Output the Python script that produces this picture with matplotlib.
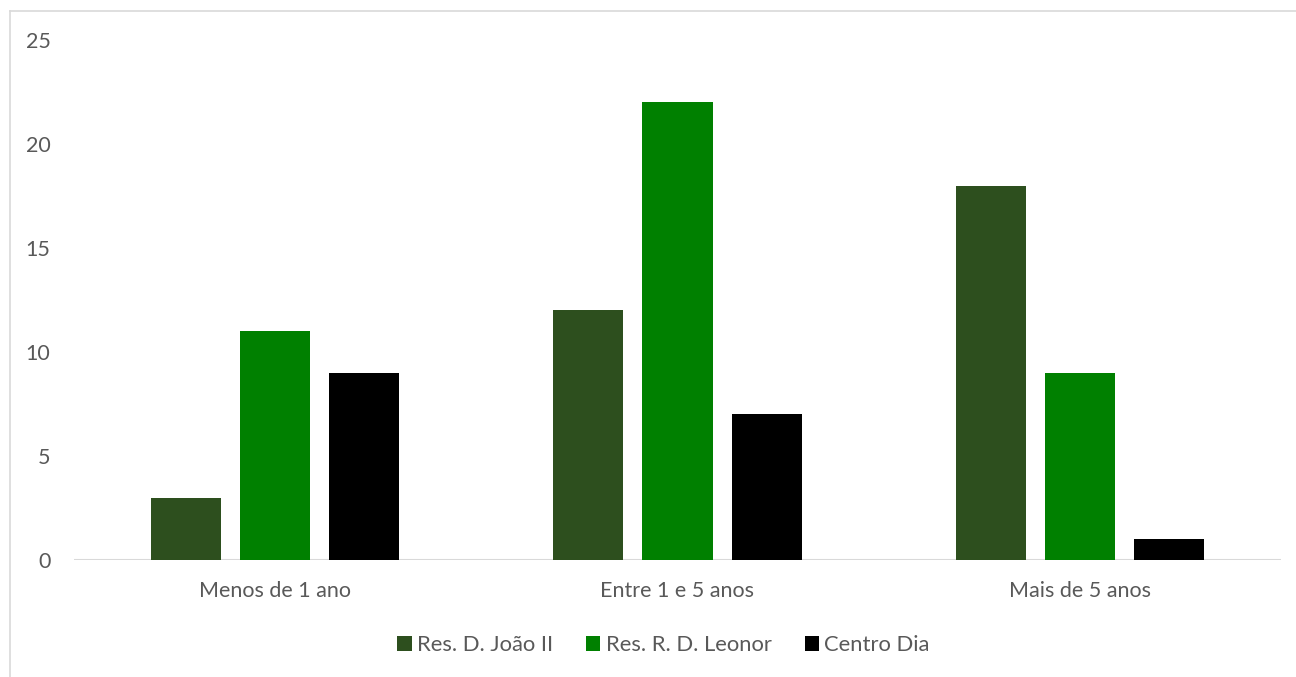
import matplotlib.pyplot as plt
from matplotlib.lines import Line2D
import numpy as np

# data
categories = ["Menos de 1 ano", "Entre 1 e 5 anos", "Mais de 5 anos"]
series_names = ["Res. D. João II", "Res. R. D. Leonor", "Centro Dia"]
joao_ii = [3, 12, 18]
leonor = [11, 22, 9]
centro_dia = [9, 7, 1]

colors = ["#2D4F1E", "#008000", "#000000"]
text_color = "#595959"
line_color = "#D9D9D9"

plt.rcParams['font.family'] = ['Lato', 'DejaVu Sans']

fig = plt.figure(figsize=(12.96, 6.77), dpi=100)
ax = fig.add_axes([74 / 1296, 1 - 560 / 677, (1281 - 74) / 1296, (560 - 40) / 677])

x = np.arange(len(categories))
width = 70 / 402
step = 89 / 402
for i, (vals, name) in enumerate(zip([joao_ii, leonor, centro_dia], series_names)):
    ax.bar(x + (i - 1) * step, vals, width, color=colors[i], label=name, zorder=3)

ax.set_xlim(-0.5, len(categories) - 0.5)
ax.set_ylim(0, 25)
ax.set_yticks(range(0, 26, 5))
ax.set_xticks(x)
ax.set_xticklabels(categories)

for s in ax.spines.values():
    s.set_visible(False)
ax.axhline(0, color=line_color, lw=1.5, zorder=2)
ax.tick_params(axis='both', length=0, labelsize=15.5, labelcolor=text_color)
ax.tick_params(axis='y', pad=17)
ax.tick_params(axis='x', pad=15)

leg = fig.legend(loc='center', bbox_to_anchor=(0.512, 1 - 645 / 677), ncol=3,
                 frameon=False, fontsize=15.8, handlelength=0.65, handleheight=0.65,
                 handletextpad=0.25, columnspacing=1.5)
for t in leg.get_texts():
    t.set_color(text_color)

# chart area border (cropped: only top and left edges visible)
fig.add_artist(Line2D([10 / 1296, 1], [1 - 11 / 677, 1 - 11 / 677],
                      transform=fig.transFigure, color=line_color, lw=1.2))
fig.add_artist(Line2D([10 / 1296, 10 / 1296], [0, 1 - 11 / 677],
                      transform=fig.transFigure, color=line_color, lw=1.2))

fig.savefig("out.png", dpi=100)
